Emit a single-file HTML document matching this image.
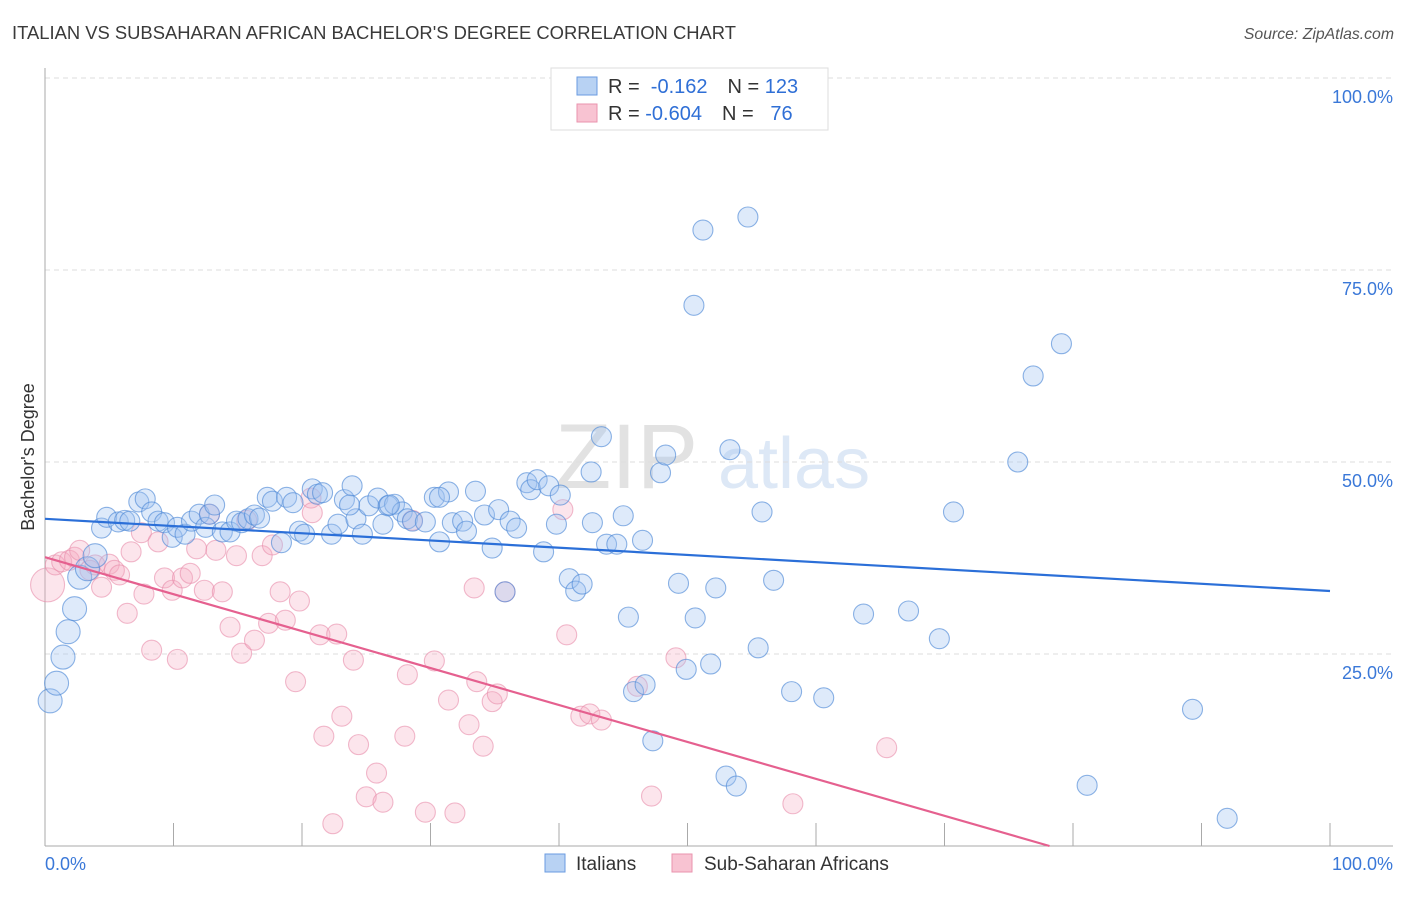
<!DOCTYPE html>
<html><head><meta charset="utf-8"><style>
body{margin:0;background:#fff;font-family:"Liberation Sans",sans-serif}
svg text{font-family:"Liberation Sans",sans-serif}
</style></head><body>
<svg width="1406" height="892" id="c">
<text x="12" y="39" font-size="18.4" fill="#3a3a3a">ITALIAN VS SUBSAHARAN AFRICAN BACHELOR'S DEGREE CORRELATION CHART</text>
<text x="1394" y="39" font-size="15.8" fill="#555" font-style="italic" text-anchor="end">Source: ZipAtlas.com</text>
<g>
<text x="555" y="488" font-size="92" fill="#e2e2e2" font-family="Liberation Serif">ZIP</text>
<text x="718" y="488" font-size="72" fill="#dde8f6">atlas</text>
</g>
<text transform="translate(34,457) rotate(-90)" font-size="18" fill="#333" text-anchor="middle">Bachelor's Degree</text>
<g id="grid"></g>
<g id="pts"></g>
<g id="lines"></g>
<g>
<rect x="551" y="68" width="277" height="62" fill="#fff" stroke="#ddd"/>
<rect x="577" y="77" width="20" height="18" fill="#b8d2f3" stroke="#6a9be0"/>
<rect x="577" y="104" width="20" height="18" fill="#f8c3d2" stroke="#ea93ae"/>
<text x="608" y="93" font-size="20" fill="#333">R = <tspan fill="#2f6fd6">&#160;-0.162</tspan><tspan dx="20">N = </tspan><tspan fill="#2f6fd6">123</tspan></text>
<text x="608" y="120" font-size="20" fill="#333">R = <tspan fill="#2f6fd6">-0.604</tspan><tspan dx="20">N = </tspan><tspan fill="#2f6fd6">&#160;&#160;76</tspan></text>
</g>
<g>
<rect x="545" y="854" width="20" height="18" fill="#b8d2f3" stroke="#6a9be0"/>
<text x="576" y="870" font-size="19" fill="#333">Italians</text>
<rect x="672" y="854" width="20" height="18" fill="#f8c3d2" stroke="#ea93ae"/>
<text x="704" y="870" font-size="19" fill="#333">Sub-Saharan Africans</text>
</g>
</svg>
<script>
const yTicks=[25,50,75,100];
const yTickLabels=["25.0%","50.0%","75.0%","100.0%"];
const xTicks=[0,10,20,30,40,50,60,70,80,90,100];
const blueX=[0.4,0.9,1.4,1.8,2.3,2.7,3.3,3.9,4.4,4.8,5.7,6.2,6.6,7.3,7.8,8.3,8.8,9.3,9.9,10.3,10.9,11.4,12.0,12.5,12.8,13.2,13.8,14.4,14.9,15.3,15.8,16.3,16.7,17.3,17.7,18.4,18.8,19.3,19.8,20.2,20.8,21.2,21.6,22.3,22.8,23.3,23.9,24.2,24.7,25.2,25.9,26.3,26.7,27.2,27.8,28.2,28.6,29.6,30.3,30.7,31.4,31.7,32.5,32.8,33.5,34.2,34.8,35.3,36.2,36.7,37.5,37.8,38.3,39.2,39.8,38.8,40.8,41.3,41.8,42.6,43.3,43.7,42.5,45.0,45.4,45.8,46.7,46.5,47.3,47.9,48.3,49.3,49.9,50.5,50.6,51.2,51.8,52.2,53.0,53.3,53.8,54.7,55.5,55.8,56.7,58.1,60.6,63.7,67.2,69.6,70.7,75.7,76.9,79.1,81.1,89.3,92.0,35.8,40.1,44.5,30.7,26.8,23.7];
const blueY=[18.9,21.2,24.6,27.9,30.9,35.0,36.1,37.8,41.4,42.8,42.2,42.4,42.3,44.8,45.2,43.5,42.3,42.1,40.2,41.5,40.6,42.3,43.2,41.5,43.2,44.4,40.9,40.9,42.3,42.1,42.6,43.1,42.7,45.4,44.9,39.5,45.4,44.7,41.0,40.6,46.5,45.8,46.0,40.6,41.9,45.1,46.9,42.6,40.6,44.3,45.3,41.9,44.3,44.5,43.5,42.6,42.3,42.2,45.4,39.6,46.1,42.1,42.3,41.0,46.2,43.1,38.8,43.8,42.3,41.4,47.3,46.4,47.7,46.9,41.9,38.3,34.8,33.2,34.1,42.1,53.3,39.3,48.7,43.0,29.8,20.1,21.0,39.8,13.7,48.6,50.9,34.2,23.0,70.4,29.7,80.2,23.7,33.6,9.1,51.6,7.8,81.9,25.8,43.5,34.6,20.1,19.3,30.2,30.6,27.0,43.5,50.0,61.2,65.4,7.9,17.8,3.6,33.1,45.7,39.3,45.4,44.4,44.4];
const pinkX=[0.2,0.8,1.3,1.9,2.3,2.7,3.5,3.9,4.4,5.0,5.4,5.8,6.4,6.7,7.5,7.7,8.3,8.8,9.3,9.9,10.3,10.7,11.3,11.8,12.4,12.8,13.3,13.8,14.4,14.9,15.3,15.7,16.3,16.9,17.4,17.7,18.3,18.7,19.5,19.8,20.7,20.8,21.4,21.7,22.4,22.7,23.1,24.0,24.4,25.0,25.8,26.3,28.0,28.2,28.6,29.6,30.3,31.4,31.9,33.4,33.6,33.0,34.1,34.8,35.2,35.8,40.3,40.6,41.7,42.4,43.3,46.1,47.2,49.1,58.2,65.5];
const pinkY=[34.0,36.6,37.0,37.2,37.6,38.5,35.9,36.6,33.7,36.7,35.9,35.3,30.3,38.3,40.8,32.8,25.5,39.6,34.9,33.3,24.3,34.9,35.5,38.7,33.3,43.2,38.5,33.1,28.5,37.8,25.1,42.4,26.8,37.8,29.0,39.2,33.1,29.4,21.4,31.9,45.3,43.4,27.5,14.3,2.9,27.6,16.9,24.2,13.2,6.4,9.5,5.7,14.3,22.3,42.4,4.4,24.1,19.0,4.3,33.6,21.4,15.8,13.0,18.8,19.8,33.1,43.8,27.5,16.9,17.2,16.4,20.8,6.5,24.5,5.5,12.8];
const blueTrend=[42.6,33.2];   // y at x=0, x=100
const pinkTrend=[37.6,-0.481]; // intercept, slope
const X=v=>45+v*12.85, Y=v=>846-v*7.68;
const NS='http://www.w3.org/2000/svg';
function mk(tag,at,parent){const e=document.createElementNS(NS,tag);for(const k in at)e.setAttribute(k,at[k]);parent.appendChild(e);return e;}
const g=document.getElementById('grid');
yTicks.forEach((t,i)=>{
 const l=mk('line',{x1:45,x2:1393,y1:Y(t),y2:Y(t),stroke:'#ddd','stroke-dasharray':'5,4'},g);
 
 
 const tx=mk('text',{x:1393,y:Y(t)+25,'font-size':18,fill:'#3a78d8','text-anchor':'end'},g);tx.textContent=yTickLabels[i];
 
 
});
const ax=mk('line',{x1:45,x2:45,y1:68,y2:846,stroke:'#aaa'},g);


const bx=mk('line',{x1:45,x2:1393,y1:846,y2:846,stroke:'#aaa'},g);


xTicks.forEach(t=>{const l=mk('line',{x1:X(t),x2:X(t),y1:823,y2:846,stroke:'#aaa'},g);
 
 });
const x0=mk('text',{x:45,y:870,'font-size':18,fill:'#3a78d8'},g);x0.textContent='0.0%';


const x1=mk('text',{x:1393,y:870,'font-size':18,fill:'#3a78d8','text-anchor':'end'},g);x1.textContent='100.0%';


const p=document.getElementById('pts');
pinkX.forEach((v,i)=>{const c=mk('circle',{cx:X(v),cy:Y(pinkY[i]),r:i==0?17:10,fill:'rgba(244,170,192,0.3)',stroke:'rgba(232,140,170,0.6)','stroke-width':1.1},p);
 
 });
blueX.forEach((v,i)=>{const c=mk('circle',{cx:X(v),cy:Y(blueY[i]),r:i<8?12:10,fill:'rgba(160,196,240,0.35)',stroke:'rgba(80,138,215,0.65)','stroke-width':1.1},p);
 
 });
const L=document.getElementById('lines');
const bl=mk('line',{x1:X(0),y1:Y(blueTrend[0]),x2:X(100),y2:Y(blueTrend[1]),stroke:'#2b6fd8','stroke-width':2.2},L);


const xe=-pinkTrend[0]/pinkTrend[1];
const pl=mk('line',{x1:X(0),y1:Y(pinkTrend[0]),x2:X(xe),y2:Y(0),stroke:'#e5608f','stroke-width':2.2},L);


</script>
</body></html>
